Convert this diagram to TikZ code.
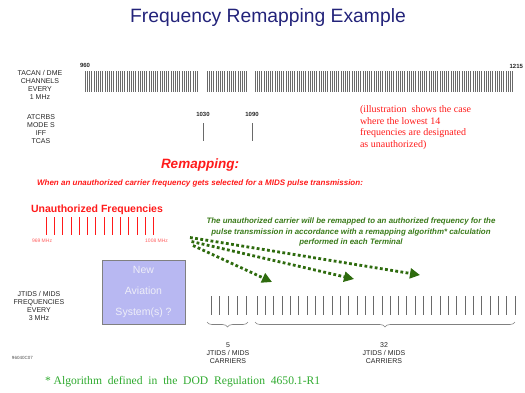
\documentclass[tikz,border=0pt]{standalone}
\usepackage{fontspec}
\setmainfont{Liberation Sans}
\newfontfamily\seriffont{Liberation Serif}
\usetikzlibrary{arrows.meta,decorations.pathreplacing}
\definecolor{navy}{HTML}{23237A}
\definecolor{redtxt}{HTML}{FF1A1A}
\definecolor{dkgreen}{HTML}{3A7A1A}
\definecolor{arrgreen}{HTML}{2E6B0E}
\definecolor{ftgreen}{HTML}{2EAA2E}
\definecolor{boxfill}{HTML}{B8B8F2}
\definecolor{boxtext}{HTML}{EEEEF8}
\definecolor{tickgray}{HTML}{6A6A6A}
\begin{document}
\begin{tikzpicture}[x=1pt,y=-1pt,
  every node/.style={inner sep=0pt, outer sep=0pt},
  titletext/.style={font=\fontsize{19.3}{22}\selectfont, text=navy},
  lbl/.style={font=\fontsize{7}{8}\selectfont, align=center, text=black!85},
  num/.style={font=\bfseries\fontsize{6}{7}\selectfont, text=black!85},
  tacan/.style={draw=tickgray, line width=0.6pt},
  jtick/.style={draw=tickgray, line width=0.6pt},
  redbar/.style={draw=redtxt, line width=1.6pt},
  rednote/.style={font=\seriffont\fontsize{10}{11.5}\selectfont, text=redtxt, align=left},
  redhead/.style={font=\bfseries\itshape\fontsize{13.5}{15}\selectfont, text=redtxt},
  redsub/.style={font=\bfseries\itshape\fontsize{8}{9}\selectfont, text=redtxt},
  unauth/.style={font=\bfseries\fontsize{10.5}{12}\selectfont, text=redtxt},
  tiny/.style={font=\fontsize{5}{6}\selectfont, text=redtxt!70},
  greentext/.style={font=\bfseries\itshape\fontsize{7.9}{10.5}\selectfont, text=dkgreen, align=center},
  remap/.style={draw=arrgreen, line width=2.8pt, dash pattern=on 2.8pt off 2.4pt,
    -{Triangle[length=10pt,width=10pt]}},
  newbox/.style={draw=gray, fill=boxfill, minimum width=83pt, minimum height=64pt,
    font=\fontsize{10.5}{21}\selectfont, text=boxtext, align=center},
  brc/.style={draw=gray, line width=0.6pt, decorate,
    decoration={brace, mirror, amplitude=5pt}},
  foot/.style={font=\seriffont\fontsize{11.6}{13}\selectfont, text=ftgreen}
]
\useasboundingbox (0,0) rectangle (525,392);

% title
\node[titletext] (title) at (268,18) {Frequency Remapping Example};

% TACAN / DME row
\node[lbl] (tacanlbl) at (40,85) {TACAN / DME\\CHANNELS\\EVERY\\1 MHz};
\node[num, anchor=west] (n960) at (80,65.5) {960};
\node[num, anchor=east] (n1215) at (523,66) {1215};
\foreach \x in {85,87.2,...,198} \draw[tacan] (\x,71) -- (\x,92);
\foreach \x in {207,209.2,...,247} \draw[tacan] (\x,71) -- (\x,92);
\foreach \x in {255,257.2,...,514} \draw[tacan] (\x,71) -- (\x,92);

% ATCRBS row
\node[lbl] (atclbl) at (41,129.5) {ATCRBS\\MODE S\\IFF\\TCAS};
\node[num] (n1030) at (203,114) {1030};
\node[num] (n1090) at (252,114) {1090};
\draw[tacan] (203.5,123) -- (203.5,141);
\draw[tacan] (252.5,123) -- (252.5,141);

% red note
\node[rednote, anchor=north west] (note) at (360,106) {(illustration\ \ shows the case\\where the lowest 14\\frequencies are designated\\as unauthorized)};

% remapping headings
\node[redhead] (remaphead) at (200,165) {Remapping:};
\node[redsub] (remapsub) at (200,183) {When an unauthorized carrier frequency gets selected for a MIDS pulse transmission:};

% unauthorized frequencies
\node[unauth] (unauthlbl) at (97,209.5) {Unauthorized Frequencies};
\foreach \x in {46.5,54.5,62.5,71.5,79.5,87.5,95.5,104.5,112.5,120.5,128.5,137.5,145.5,153.5}
  \draw[redbar] (\x,217) -- (\x,235);
\node[tiny, anchor=west] (f969) at (32,240.5) {969 MHz};
\node[tiny, anchor=east] (f1008) at (168,240.5) {1008 MHz};

% green explanation
\node[greentext] (explain) at (351,232) {The unauthorized carrier will be remapped to an authorized frequency for the\\pulse transmission in accordance with a remapping algorithm* calculation\\performed in each Terminal};

% remapping arrows
\coordinate (s1) at (190,237.5);
\coordinate (s2) at (191.5,241.5);
\coordinate (s3) at (193,245.5);
\coordinate (e1) at (420,275);
\coordinate (e2) at (354,279);
\coordinate (e3) at (272,282);
\draw[remap] (s1) -- (e1);
\draw[remap] (s2) -- (e2);
\draw[remap] (s3) -- (e3);

% new aviation systems box
\node[newbox] (box) at (143.5,292) {New\\Aviation\\System(s) ?};

% JTIDS row
\node[lbl] (jtidslbl) at (39,306) {JTIDS / MIDS\\FREQUENCIES\\EVERY\\3 MHz};
\foreach \i in {0,...,4} \draw[jtick] (211+8.75*\i,296) -- (211+8.75*\i,315);
\foreach \i in {0,...,31} \draw[jtick] (257+8.32*\i,296) -- (257+8.32*\i,315);

\coordinate (b1l) at (207,322);
\coordinate (b1r) at (248,322);
\coordinate (b2l) at (255,322);
\coordinate (b2r) at (515,322);
\draw[brc] (b1l) -- (b1r);
\draw[brc] (b2l) -- (b2r);

\node[lbl] (five) at (228,353) {5\\JTIDS / MIDS\\CARRIERS};
\node[lbl] (thirtytwo) at (384,353) {32\\JTIDS / MIDS\\CARRIERS};

\node[font=\fontsize{4.5}{5}\selectfont, text=black!70, anchor=west] (code) at (12,358) {96040C07};

% footnote
\node[foot, anchor=west] (footnote) at (45,382) {*\ Algorithm\ \ defined\ \ in\ \ the\ \ DOD\ \ Regulation\ \ 4650.1-R1};
\end{tikzpicture}
\end{document}
